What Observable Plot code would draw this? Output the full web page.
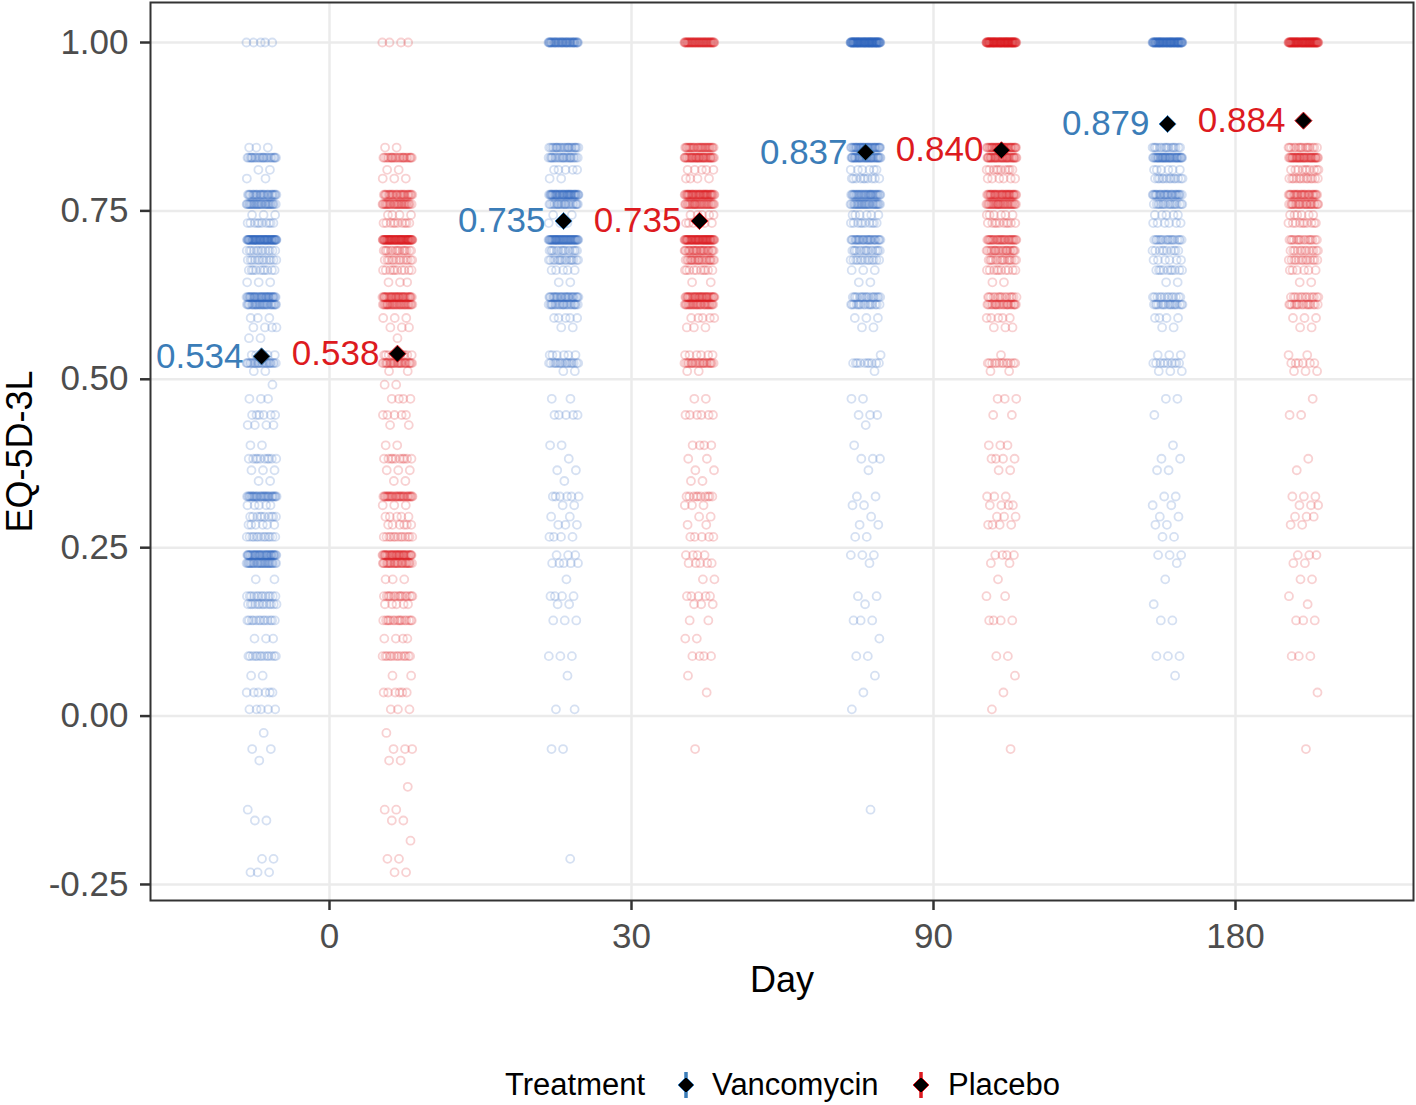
<!DOCTYPE html>
<html><head><meta charset="utf-8">
<script src="https://cdn.jsdelivr.net/npm/d3@7"></script>
<script src="https://cdn.jsdelivr.net/npm/@observablehq/plot@0.6"></script>
<style>
body{margin:0;background:#fff;font-family:"Liberation Sans",Arial,sans-serif;}
#wrap{width:1416px;height:1105px;position:relative;overflow:hidden;}
#legend{position:absolute;left:0;top:1065px;width:1416px;height:40px;}
.li{position:absolute;top:0;height:40px;line-height:40px;font-size:31px;color:#000;white-space:nowrap;}
.key{position:absolute;top:4px;}
</style></head><body><div id="wrap"><div id="chart"></div><div id="legend"></div></div>
<script>
// ---- data ----
const treatments = ["Vancomycin", "Placebo"];
const dayLabels = ["0", "30", "90", "180"];
const yTicks = [-0.25, 0, 0.25, 0.5, 0.75, 1];
// EQ-5D-3L index values seen as rows in the picture
const eqValues = [1.000,0.844,0.829,0.811,0.798,0.774,0.760,0.744,0.732,0.707,
  0.691,0.677,0.662,0.644,0.622,0.611,0.591,0.577,0.561,0.536,
  0.524,0.512,0.492,0.471,0.447,0.432,0.402,0.382,0.365,0.349,
  0.326,0.313,0.296,0.284,0.266,0.239,0.227,0.203,0.178,0.166,
  0.142,0.115,0.089,0.060,0.035,0.010,-0.025,-0.049,-0.066,-0.105,
  -0.139,-0.155,-0.185,-0.212,-0.232];
// number of patients at each eqValues row, per treatment and day
const vancDay0   = [5,3,24,2,2,29,32,3,10,64, 13,13,10,3,40,32,3,4,2,5, 24,2,1,3,6,4,2,10,3,2, 32,5,10,6,13,40,32,2,13,13, 13,3,13,2,6,5,1,2,1,0, 1,2,0,2,3];
const placDay0   = [4,2,24,2,3,29,32,4,10,72, 16,13,10,3,40,35,3,3,1,10, 29,2,2,4,5,2,2,10,3,2, 32,3,5,6,13,40,29,3,16,5, 16,4,13,2,6,3,1,3,2,1, 2,2,1,2,2];
const vancDay30  = [48,24,24,5,2,48,24,2,3,56, 16,16,5,2,29,24,5,2,0,6, 18,2,0,2,5,0,2,1,2,1, 6,2,2,3,4,3,5,1,4,2, 3,0,3,1,0,2,0,2,0,0, 0,0,0,1,0];
const placDay30  = [56,32,40,5,4,48,35,5,6,64, 29,24,10,2,40,32,5,3,0,6, 24,2,0,2,6,0,4,2,2,2, 10,3,2,2,5,4,5,2,5,3, 2,2,4,1,1,0,0,1,0,0, 0,0,0,0,0];
const vancDay90  = [96,40,40,6,10,35,32,6,10,29, 16,13,3,2,18,16,3,2,0,1, 10,1,0,2,3,1,1,3,1,0, 2,2,1,2,2,3,1,0,2,1, 3,1,2,1,1,1,0,0,0,0, 1,0,0,0,0];
const placDay90  = [96,40,40,10,6,40,35,6,10,32, 24,16,10,2,16,24,5,3,0,1, 13,2,0,3,2,0,3,4,2,0, 3,4,3,4,0,4,2,1,2,0, 4,0,2,1,1,1,0,1,0,0, 0,0,0,0,0];
const vancDay180 = [80,16,40,6,13,29,18,5,6,18, 10,6,10,2,13,18,4,2,0,3, 10,3,0,2,1,0,1,2,2,0, 2,2,2,2,2,3,1,1,0,1, 2,0,3,1,0,0,0,0,0,0, 0,0,0,0,0];
const placDay180 = [88,16,40,10,13,29,26,6,10,16, 13,13,6,2,13,16,3,2,0,2, 6,3,0,1,2,0,0,1,1,0, 3,3,3,2,0,3,2,2,1,1, 3,0,3,0,1,0,0,1,0,0, 0,0,0,0,0];
const meanVanc = [0.534, 0.735, 0.837, 0.879];
const meanPlac = [0.538, 0.735, 0.840, 0.884];

// ---- build table ----
const groups = [
  {trt:"Vancomycin", day:0, counts:vancDay0},  {trt:"Placebo", day:0, counts:placDay0},
  {trt:"Vancomycin", day:1, counts:vancDay30}, {trt:"Placebo", day:1, counts:placDay30},
  {trt:"Vancomycin", day:2, counts:vancDay90}, {trt:"Placebo", day:2, counts:placDay90},
  {trt:"Vancomycin", day:3, counts:vancDay180},{trt:"Placebo", day:3, counts:placDay180}
];
const points = [];
groups.forEach(g => {
  let n = 0;
  g.counts.forEach((c, i) => { for (let k = 0; k < c; k++) points.push({trt: g.trt, day: g.day, value: eqValues[i], n: n++}); });
});
const means = [];
dayLabels.forEach((lab, i) => {
  means.push({trt:"Vancomycin", day:i, value: meanVanc[i]});
  means.push({trt:"Placebo", day:i, value: meanPlac[i]});
});

const DODGE = 0.225, JW = 0.05;
const off = t => t === "Vancomycin" ? -DODGE : DODGE;
const jit = n => (((n * 0.6180339887) % 1) - 0.5) * 2 * JW;
const ptColor = {Vancomycin: "#2f62c0", Placebo: "#de1a1f"};
const txtColor = {Vancomycin: "#3b7db8", Placebo: "#dd1a20"};

const chart = Plot.plot({
  width: 1416, height: 1040,
  marginLeft: 150, marginRight: 3, marginTop: 2, marginBottom: 140,
  style: {fontFamily: "'Liberation Sans', Arial, sans-serif", background: "white", overflow: "visible"},
  x: {type: "linear", domain: [-0.5927, 3.5894], axis: null},
  y: {domain: [-0.2738, 1.0594], axis: null},
  marks: [
    Plot.gridY(yTicks, {stroke: "#EBEBEB", strokeOpacity: 1, strokeWidth: 2.5}),
    Plot.gridX([0,1,2,3], {stroke: "#EBEBEB", strokeOpacity: 1, strokeWidth: 2.5}),
    Plot.dot(points, {x: d => d.day + off(d.trt) + jit(d.n), y: "value", r: 4, fill: "none",
      stroke: d => ptColor[d.trt], strokeWidth: 1.8, strokeOpacity: 0.2}),
    Plot.dot(means, {x: d => d.day + off(d.trt), y: "value", symbol: "diamond2", r: 7.7,
      fill: "black", stroke: d => txtColor[d.trt], strokeWidth: 1}),
    Plot.text(means, {x: d => d.day + off(d.trt), y: "value", text: d => d.value.toFixed(3),
      textAnchor: "end", dx: -18, fontSize: 35, fill: d => txtColor[d.trt]}),
    Plot.frame({stroke: "#333333", strokeWidth: 2}),
    Plot.axisY(yTicks, {tickFormat: d => d.toFixed(2), tickSize: 10, tickPadding: 12, fontSize: 35,
      fill: "#4D4D4D", stroke: "#333333", strokeWidth: 2.5, label: null}),
    Plot.axisX([0,1,2,3], {tickFormat: d => dayLabels[d], tickSize: 10, tickPadding: 13, fontSize: 35,
      fill: "#4D4D4D", stroke: "#333333", strokeWidth: 2.5, label: null}),
    Plot.text(["EQ-5D-3L"], {text: d => d, frameAnchor: "left", textAnchor: "middle", lineAnchor: "middle",
      rotate: -90, dx: -130, fontSize: 36, fill: "black"}),
    Plot.text(["Day"], {text: d => d, frameAnchor: "bottom", textAnchor: "middle", lineAnchor: "middle",
      dy: 80, fontSize: 36, fill: "black"})
  ]
});
document.getElementById("chart").appendChild(chart);

// ---- legend ----
const legend = document.getElementById("legend");
function addText(txt, left) { const s = document.createElement("div"); s.className = "li"; s.style.left = left + "px"; s.textContent = txt; legend.appendChild(s); }
function addKey(col, cx) {
  const ns = "http://www.w3.org/2000/svg";
  const svg = document.createElementNS(ns, "svg");
  svg.setAttribute("width", 30); svg.setAttribute("height", 32);
  svg.setAttribute("class", "key"); svg.style.left = (cx - 15) + "px";
  const l = document.createElementNS(ns, "line");
  l.setAttribute("x1", 15); l.setAttribute("x2", 15); l.setAttribute("y1", 3); l.setAttribute("y2", 29);
  l.setAttribute("stroke", col); l.setAttribute("stroke-width", 3.5); svg.appendChild(l);
  const p = document.createElementNS(ns, "path");
  p.setAttribute("d", "M15,8 L23,16 L15,24 L7,16 Z"); p.setAttribute("fill", "black");
  p.setAttribute("stroke", col); p.setAttribute("stroke-width", 1); svg.appendChild(p);
  legend.appendChild(svg);
}
addText("Treatment", 505);
addKey(txtColor.Vancomycin, 686);
addText(treatments[0], 712);
addKey(txtColor.Placebo, 921);
addText(treatments[1], 948);
</script></body></html>
